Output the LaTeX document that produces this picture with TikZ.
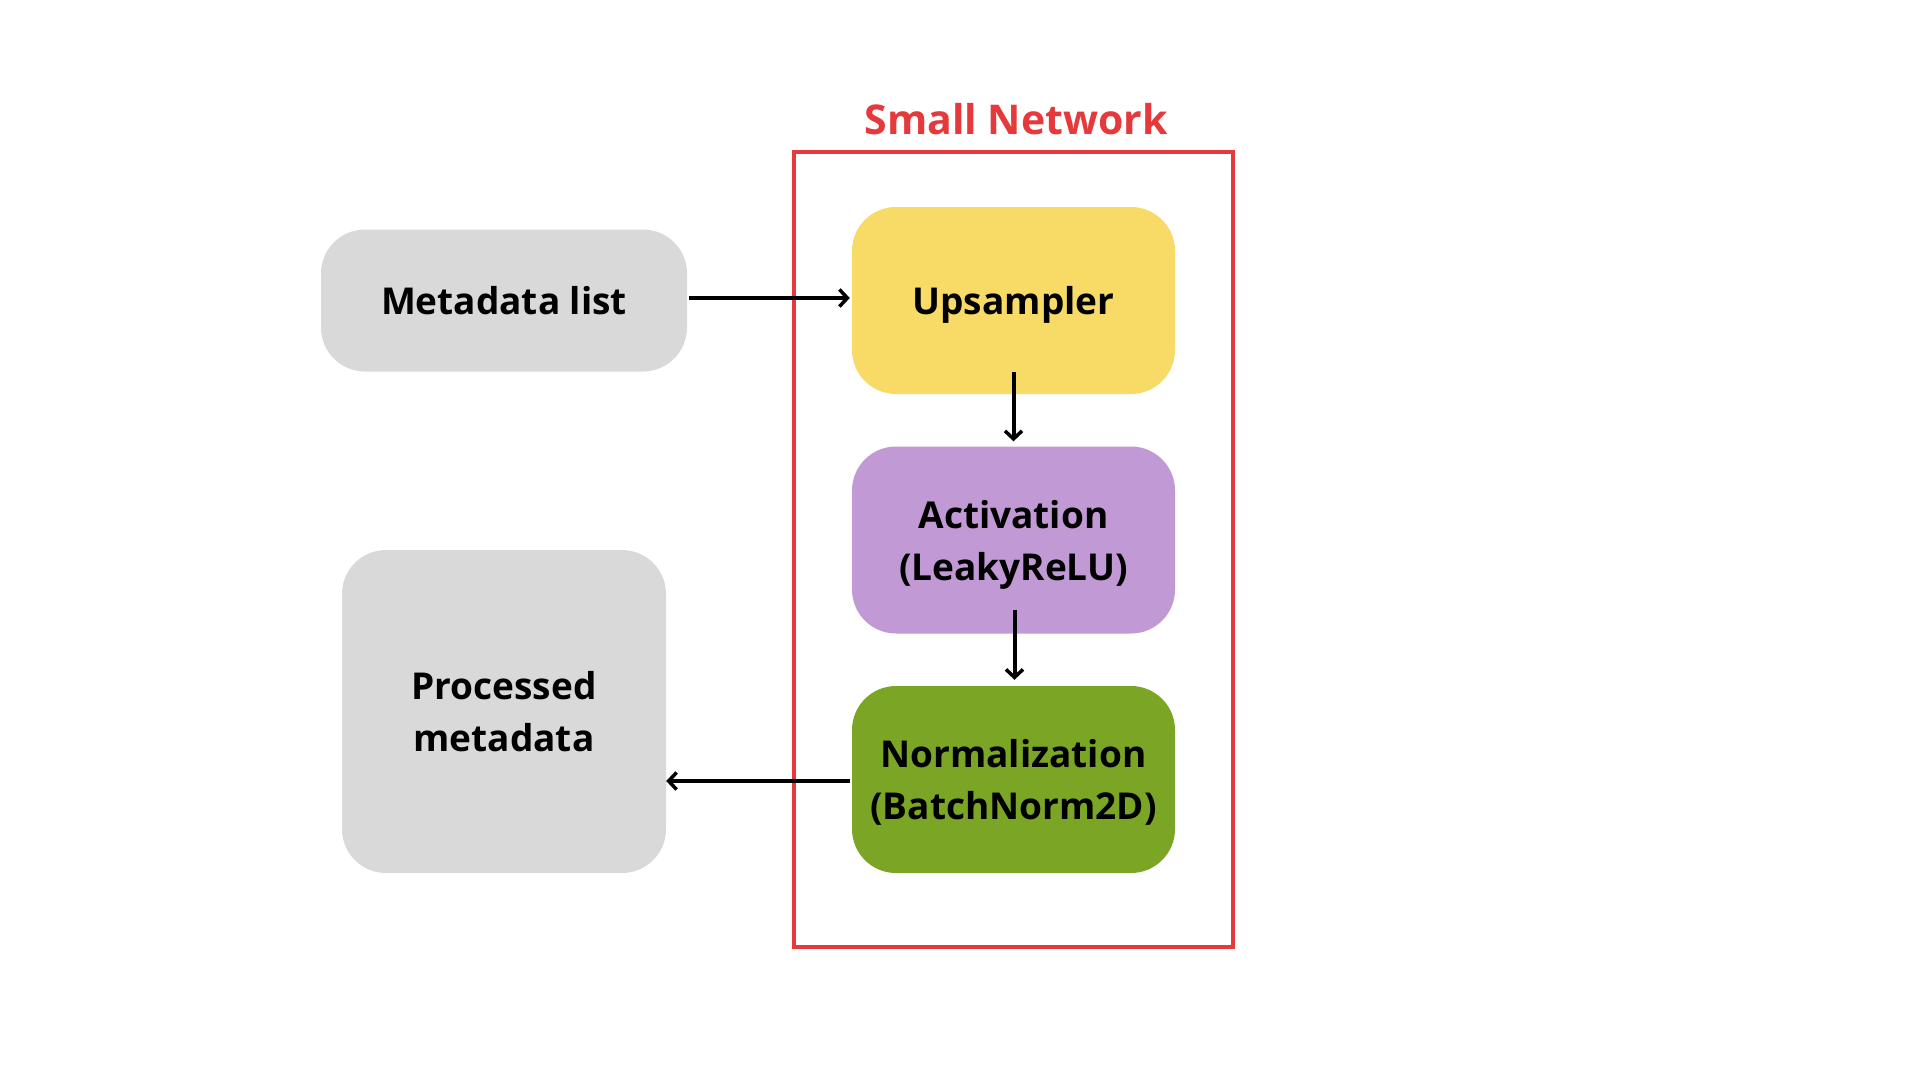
\documentclass[tikz,border=0pt]{standalone}
\usepackage{fontspec}
\setmainfont{Open Sans}
\usetikzlibrary{arrows.meta}
\definecolor{boxgray}{HTML}{D9D9D9}
\definecolor{upyellow}{HTML}{F8DA66}
\definecolor{actpurple}{HTML}{C099D5}
\definecolor{normgreen}{HTML}{7BA524}
\definecolor{netred}{HTML}{E5393B}
\tikzset{
    block/.style={rounded corners=44pt, inner sep=0pt, align=center, text depth=0pt,
        font=\fontsize{37}{52}\selectfont\bfseries},
    flow/.style={line width=4pt, -{Straight Barb[length=8pt,width=17pt,line width=3.5pt]}}
}
\begin{document}
\begin{tikzpicture}[x=1pt, y=-1pt]
            \def\colx{1013.5}
            \def\width{323}
            \def\height{187}
            \fill[white] (0,0) rectangle (1920,1080);
            \useasboundingbox (0,0) rectangle (1920,1080);

            \node[draw=netred, line width=3.5pt, minimum width=439pt, minimum height=795pt, inner sep=0pt] (net) at (\colx, 549.5) {};
            \node[text=netred, font=\fontsize{41}{50}\selectfont\bfseries] (title) at (1016, 119) {Small Network};

            \node[block, fill=boxgray, minimum width=366pt, minimum height=142pt] (meta) at (504, 300.5) {Metadata list};
            \node[block, fill=boxgray, minimum width=324pt, minimum height=323pt] (proc) at (504, 711.5) {Processed\\metadata};

            \node[block, fill=upyellow, minimum width=\width pt, minimum height=\height pt] (ups) at (\colx, 300.5) {Upsampler};
            \node[block, fill=actpurple, minimum width=\width pt, minimum height=\height pt] (act) at (\colx, 540) {Activation\\(LeakyReLU)};
            \node[block, fill=normgreen, minimum width=\width pt, minimum height=\height pt] (norm) at (\colx, 779.5) {Normalization\\(BatchNorm2D)};

            \draw[flow, shorten <=2pt, shorten >=2pt] ([yshift=2.5pt]meta.east) -- ([yshift=2.5pt]ups.west);
            \draw[flow, shorten <=-22pt, shorten >=5pt] (ups.south) -- (act.north);
            \draw[flow, shorten <=-24pt, shorten >=6pt] ([xshift=1pt]act.south) -- ([xshift=1pt]norm.north);
            \draw[flow, shorten <=2pt] ([yshift=-1.5pt]norm.west) -- ([yshift=-1.5pt]norm.west -| proc.east);
        \end{tikzpicture}
\end{document}
